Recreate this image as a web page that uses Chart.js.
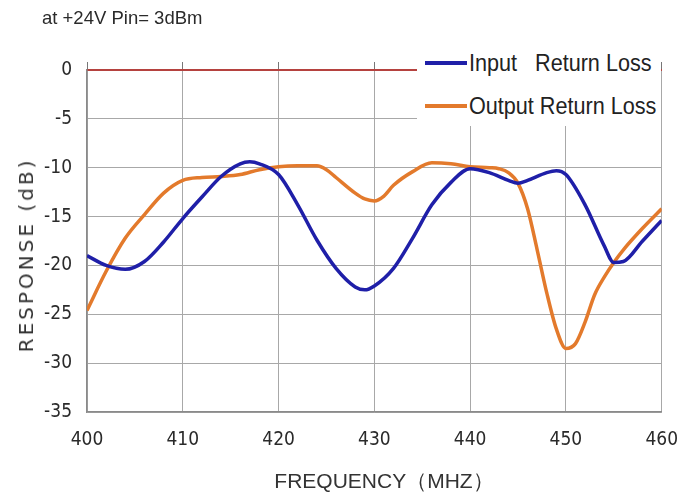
<!DOCTYPE html>
<html>
<head>
<meta charset="utf-8">
<script src="https://cdn.jsdelivr.net/npm/chart.js@4.4.1/dist/chart.umd.min.js"></script>
<style>
  body { margin: 0; background: #fff; }
  #wrap { position: relative; width: 695px; height: 498px; }
  #chart { position: absolute; left: 0; top: 0; }
  .txt { position: absolute; color: #2a2a2a; white-space: pre; }
  #title { left: 42px; top: 7px; font: 18.5px 'Liberation Sans', Arial, sans-serif; }
  #ytitle { left: 26px; top: 255px; font: 20px 'DejaVu Sans', sans-serif; letter-spacing: 3px;
            transform: translate(-50%, -50%) rotate(-90deg); color: #333; }
  #xtitle { left: 384px; top: 481px; font: 21px 'Liberation Sans', Arial, sans-serif;
            transform: translate(-50%, -50%); color: #333; }
  #legend { position: absolute; left: 417px; top: 44px; width: 244px; height: 82px; background: #fff; }
  .item { position: absolute; left: 8px; height: 30px; }
  .swatch { position: absolute; left: 0; top: 13px; width: 42px; height: 4px; }
  .label { position: absolute; left: 44px; top: 0; font: 24px 'Liberation Sans', Arial, sans-serif;
           color: #222; white-space: pre; line-height: 30px; transform: scaleX(0.9); transform-origin: 0 50%; }
</style>
</head>
<body>
<div id="wrap">
  <canvas id="chart" width="695" height="498"></canvas>
  <div class="txt" id="title">at +24V Pin= 3dBm</div>
  <div class="txt" id="ytitle">RESPONSE (dB)</div>
  <div class="txt" id="xtitle">FREQUENCY（MHZ）</div>
  <div id="legend"></div>
</div>
<script>
// Input return loss (blue)
const inputFreq = [400, 402, 404, 406, 408, 410, 412, 414, 416, 417, 418, 420, 422, 424, 426, 428, 429, 430,
                   432, 434, 436, 438, 440, 442, 444, 445, 446, 448, 449, 450, 452, 454, 455, 456, 458, 460];
const inputLoss = [-19, -20, -20.4, -19.6, -17.6, -15.2, -13, -10.9, -9.6, -9.4, -9.6, -10.7, -13.8, -17.4, -20.3, -22.2, -22.5, -22.1,
                   -20.3, -17.2, -13.8, -11.5, -10.1, -10.5, -11.3, -11.6, -11.3, -10.5, -10.3, -10.7, -13.8, -18, -19.7, -19.6, -17.5, -15.4];

// Output return loss (orange)
const outputFreq = [400, 402, 404, 406, 408, 410, 412, 414, 416, 418, 420, 422, 424, 425, 426, 428, 429, 430, 431, 432,
                    434, 436, 438, 440, 442, 443, 444, 445, 446, 447, 448, 449, 450, 451, 452, 453, 454, 455, 456, 458, 460];
const outputLoss = [-24.6, -20.6, -17.2, -14.8, -12.6, -11.3, -11, -10.9, -10.7, -10.2, -9.9, -9.8, -9.8, -10.2, -11, -12.6, -13.2, -13.4, -12.9, -11.8,
                    -10.4, -9.5, -9.6, -9.9, -10, -10.1, -10.5, -11.6, -14.2, -18.4, -22.8, -26.5, -28.5, -28, -25.8, -23, -21.2, -19.7, -18.4, -16.2, -14.2];

const seriesNames = ['Input   Return Loss', 'Output Return Loss'];
const seriesColors = ['#1f1fa8', '#e37a2c'];

const freqTicks = [400, 410, 420, 430, 440, 450, 460];
const dbTicks = [0, -5, -10, -15, -20, -25, -30, -35];

function toPoints(xs, ys) {
  return xs.map((x, i) => ({ x: x, y: ys[i] }));
}

const gridColor = '#a8a8a8';
const tickFont = { family: "'DejaVu Sans Condensed', 'Liberation Sans', sans-serif", size: 19 };

new Chart(document.getElementById('chart'), {
  type: 'line',
  data: {
    datasets: [
      { label: seriesNames[0], data: toPoints(inputFreq, inputLoss), borderColor: seriesColors[0] },
      { label: seriesNames[1], data: toPoints(outputFreq, outputLoss), borderColor: seriesColors[1] }
    ]
  },
  options: {
    responsive: false,
    animation: false,
    layout: { padding: { top: 60, right: 32, left: 0, bottom: 0 } },
    elements: {
      point: { radius: 0 },
      line: { borderWidth: 3.5, cubicInterpolationMode: 'monotone', fill: false }
    },
    plugins: { legend: { display: false }, tooltip: { enabled: false } },
    scales: {
      x: {
        type: 'linear', position: 'bottom',
        min: freqTicks[0], max: freqTicks[freqTicks.length - 1],
        afterBuildTicks: s => { s.ticks = freqTicks.map(v => ({ value: v })); },
        ticks: { padding: 17, color: '#2a2a2a', font: tickFont, maxRotation: 0 },
        grid: { color: gridColor, drawTicks: false },
        border: { color: '#8a8a8a', width: 1.5 },
        afterFit: s => { s.height = 86; }
      },
      xTop: {
        type: 'linear', position: 'top',
        min: freqTicks[0], max: freqTicks[freqTicks.length - 1],
        afterBuildTicks: s => { s.ticks = freqTicks.map(v => ({ value: v })); },
        ticks: { display: false },
        grid: { drawOnChartArea: false, drawTicks: true, tickLength: 8, color: '#777' },
        border: { color: '#b5423f', width: 2 },
        afterFit: s => { s.height = 10; }
      },
      y: {
        min: dbTicks[dbTicks.length - 1], max: dbTicks[0],
        afterBuildTicks: s => { s.ticks = dbTicks.map(v => ({ value: v })); },
        ticks: { padding: 15, color: '#2a2a2a', font: tickFont },
        grid: { color: c => (c.tick && c.tick.value === 0 ? 'rgba(0,0,0,0)' : gridColor), drawTicks: false },
        border: { color: '#8a8a8a', width: 1.5 },
        afterFit: s => { s.width = 87; }
      }
    }
  }
});

// legend box overlaying the top-right of the plot
const legend = document.getElementById('legend');
seriesNames.forEach((name, i) => {
  const item = document.createElement('div');
  item.className = 'item';
  item.style.top = (4 + i * 43) + 'px';
  item.innerHTML = '<div class="swatch" style="background:' + seriesColors[i] + '"></div>' +
                   '<div class="label"></div>';
  item.querySelector('.label').textContent = name;
  legend.appendChild(item);
});
</script>
</body>
</html>
